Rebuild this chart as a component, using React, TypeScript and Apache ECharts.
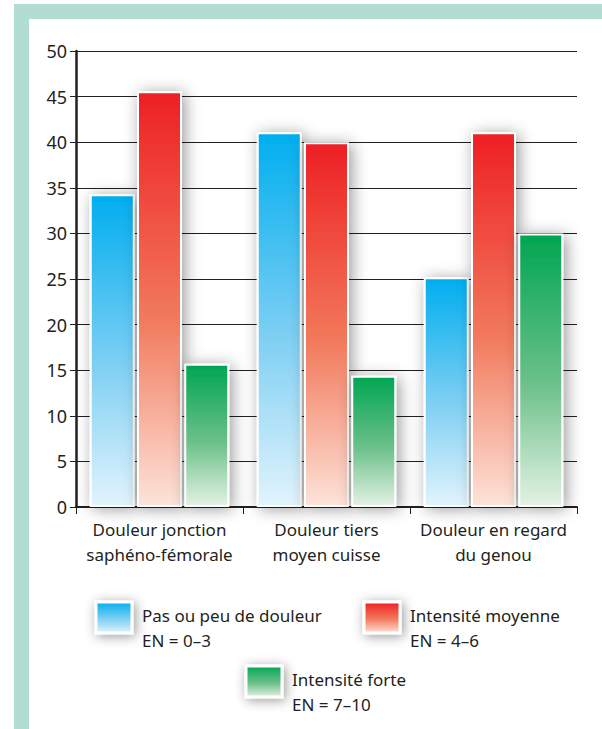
import React, { useEffect, useRef } from "react";
import * as echarts from "echarts";

const categories = [
  "Douleur jonction\nsaphéno-fémorale",
  "Douleur tiers\nmoyen cuisse",
  "Douleur en regard\ndu genou",
];
const seriesNames = [
  "Pas ou peu de douleur\nEN = 0–3",
  "Intensité moyenne\nEN = 4–6",
  "Intensité forte\nEN = 7–10",
];
const noPain = [34.3, 41.1, 25.2];
const moderate = [45.6, 40.0, 41.1];
const strong = [15.7, 14.4, 30.0];

const topColors = ["#00aeef", "#ee1f24", "#00a651"];
const midColors = ["#7fcff3", "#f27a5c", "#6cc08a"];
const bottomColors = ["#e2f4fc", "#fde3d9", "#e4f2e4"];

const grad = (i: number) =>
  new echarts.graphic.LinearGradient(0, 0, 0, 1, [
    { offset: 0, color: topColors[i] },
    { offset: 0.55, color: midColors[i] },
    { offset: 1, color: bottomColors[i] },
  ]);

export default function App() {
  const ref = useRef<HTMLDivElement>(null);
  useEffect(() => {
    if (!ref.current) return;
    const chart = echarts.init(ref.current, undefined, { renderer: "svg" });
    const font = "'Noto Sans', sans-serif";
    const textColor = "#231f20";
    const data = [noPain, moderate, strong];

    const legendPos = [
      { x: 96, y: 602 },
      { x: 364, y: 602 },
      { x: 246, y: 666 },
    ];
    const legendGraphics: any[] = [];
    seriesNames.forEach((name, i) => {
      const p = legendPos[i];
      legendGraphics.push({
        type: "rect",
        shape: { x: p.x, y: p.y, width: 36, height: 31 },
        style: {
          fill: grad(i),
          stroke: "#ffffff",
          lineWidth: 3,
          shadowBlur: 12,
          shadowColor: "rgba(0,0,0,0.4)",
          shadowOffsetX: 2,
          shadowOffsetY: 2,
        },
        z: 10,
      });
      legendGraphics.push({
        type: "text",
        x: p.x + 46,
        y: p.y + 1,
        style: {
          text: name,
          font: `17px ${font}`,
          fill: textColor,
          lineHeight: 25,
        },
        z: 10,
      });
    });

    chart.setOption({
      animation: false,
      backgroundColor: "#ffffff",
      graphic: [
        {
          type: "rect",
          shape: { x: 14, y: 4, width: 588, height: 725 },
          style: { fill: "#b2ddd3" },
          z: -10,
          silent: true,
        },
        {
          type: "rect",
          shape: { x: 29, y: 19, width: 573, height: 710 },
          style: { fill: "#ffffff" },
          z: -9,
          silent: true,
        },
        ...legendGraphics,
      ],
      grid: { left: 76, right: 25, top: 51, bottom: 222 },
      xAxis: {
        type: "category",
        data: categories,
        axisLine: { show: true, lineStyle: { color: "#231f20", width: 2 } },
        axisTick: { show: true, length: 7, lineStyle: { color: "#231f20", width: 1 } },
        axisLabel: {
          color: textColor,
          fontSize: 17,
          fontFamily: font,
          lineHeight: 25,
          margin: 10,
          interval: 0,
        },
      },
      yAxis: {
        type: "value",
        min: 0,
        max: 50,
        interval: 5,
        axisLine: { show: true, lineStyle: { color: "#231f20", width: 2.5 } },
        axisTick: { show: true, length: 6, lineStyle: { color: "#231f20", width: 1 } },
        axisLabel: {
          color: textColor,
          fontSize: 18,
          fontFamily: font,
          margin: 9,
        },
        splitLine: { show: true, lineStyle: { color: "#231f20", width: 1.2 } },
      },
      series: seriesNames.map((name, i) => ({
        type: "bar",
        name,
        data: data[i],
        barWidth: 45,
        barGap: "5%",
        itemStyle: {
          color: grad(i),
          borderColor: "#ffffff",
          borderWidth: 2,
          shadowBlur: 16,
          shadowColor: "rgba(0,0,0,0.4)",
          shadowOffsetX: 3,
          shadowOffsetY: 2,
        },
      })),
    });
    return () => chart.dispose();
  }, []);
  return (
    <div
      ref={ref}
      style={{ position: "fixed", left: 0, top: 0, width: 602, height: 729 }}
    />
  );
}
